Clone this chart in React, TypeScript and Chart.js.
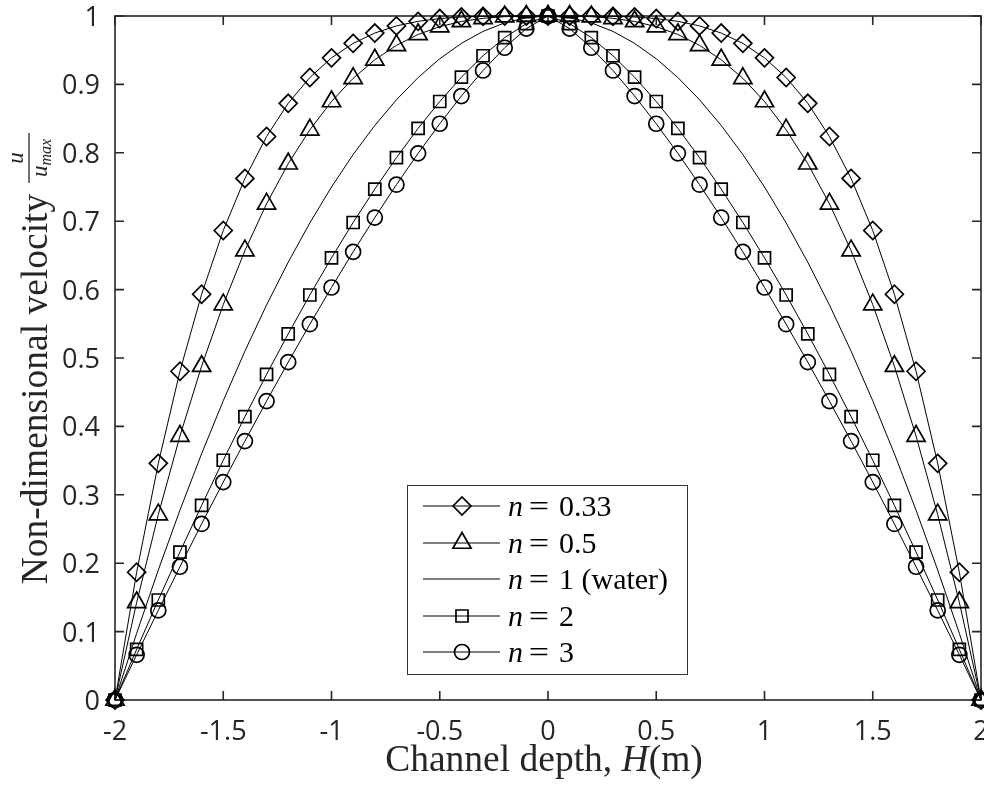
import React, { useEffect, useRef } from 'react';
import { Chart, registerables } from 'chart.js';

Chart.register(...registerables);

// Channel depth positions (m)
const xValues = [
  -2, -1.9, -1.8, -1.7, -1.6, -1.5, -1.4, -1.3, -1.2, -1.1, -1, -0.9, -0.8, -0.7, -0.6, -0.5, -0.4, -0.3, -0.2, -0.1,
  0, 0.1, 0.2, 0.3, 0.4, 0.5, 0.6, 0.7, 0.8, 0.9, 1, 1.1, 1.2, 1.3, 1.4, 1.5, 1.6, 1.7, 1.8, 1.9, 2,
];

// Non-dimensional velocity u/umax for each flow index n
const seriesN033 = [
  0, 0.1868, 0.346, 0.4806, 0.5932, 0.6864, 0.7625, 0.8238, 0.8724, 0.9101, 0.9388, 0.96, 0.9751, 0.9855, 0.9922, 0.9963, 0.9985, 0.9995, 1, 1,
  1, 1, 1, 0.9995, 0.9985, 0.9963, 0.9922, 0.9855, 0.9751, 0.96, 0.9388, 0.9101, 0.8724, 0.8238, 0.7625, 0.6864, 0.5932, 0.4806, 0.346, 0.1868, 0,
];
const seriesN05 = [
  0, 0.1426, 0.271, 0.3859, 0.488, 0.5781, 0.657, 0.7254, 0.784, 0.8336, 0.875, 0.9089, 0.936, 0.9571, 0.973, 0.9844, 0.992, 0.9966, 0.999, 0.9999,
  1, 0.9999, 0.999, 0.9966, 0.992, 0.9844, 0.973, 0.9571, 0.936, 0.9089, 0.875, 0.8336, 0.784, 0.7254, 0.657, 0.5781, 0.488, 0.3859, 0.271, 0.1426, 0,
];
const seriesN1 = [
  0, 0.0975, 0.19, 0.2775, 0.36, 0.4375, 0.51, 0.5775, 0.64, 0.6975, 0.75, 0.7975, 0.84, 0.8775, 0.91, 0.9375, 0.96, 0.9775, 0.99, 0.9975,
  1, 0.9975, 0.99, 0.9775, 0.96, 0.9375, 0.91, 0.8775, 0.84, 0.7975, 0.75, 0.6975, 0.64, 0.5775, 0.51, 0.4375, 0.36, 0.2775, 0.19, 0.0975, 0,
];
const seriesN2 = [
  0, 0.074, 0.1462, 0.2163, 0.2845, 0.3505, 0.4143, 0.476, 0.5352, 0.5921, 0.6464, 0.6981, 0.747, 0.7929, 0.8357, 0.875, 0.9106, 0.9419, 0.9684, 0.9888,
  1, 0.9888, 0.9684, 0.9419, 0.9106, 0.875, 0.8357, 0.7929, 0.747, 0.6981, 0.6464, 0.5921, 0.5352, 0.476, 0.4143, 0.3505, 0.2845, 0.2163, 0.1462, 0.074, 0,
];
const seriesN3 = [
  0, 0.0661, 0.131, 0.1948, 0.2574, 0.3186, 0.3785, 0.437, 0.4939, 0.5494, 0.6031, 0.6552, 0.7053, 0.7534, 0.7992, 0.8425, 0.883, 0.9203, 0.9536, 0.9816,
  1, 0.9816, 0.9536, 0.9203, 0.883, 0.8425, 0.7992, 0.7534, 0.7053, 0.6552, 0.6031, 0.5494, 0.4939, 0.437, 0.3785, 0.3186, 0.2574, 0.1948, 0.131, 0.0661, 0,
];

const seriesValues = ['0.33', '0.5', '1 (water)', '2', '3'];

const xTickValues = [-2, -1.5, -1, -0.5, 0, 0.5, 1, 1.5, 2];
const xTickLabels = ['-2', '-1.5', '-1', '-0.5', '0', '0.5', '1', '1.5', '2'];
const yTickValues = [0, 0.1, 0.2, 0.3, 0.4, 0.5, 0.6, 0.7, 0.8, 0.9, 1];
const yTickLabels = ['0', '0.1', '0.2', '0.3', '0.4', '0.5', '0.6', '0.7', '0.8', '0.9', '1'];

const AXIS = '#262626';
const SERIF = '"Liberation Serif", "DejaVu Serif", serif';
const SANS = '"Open Sans", "Noto Sans", sans-serif';

type Run = { t: string; it?: boolean; size?: number; dy?: number };

function runsWidth(ctx: CanvasRenderingContext2D, runs: Run[], size: number) {
  let w = 0;
  for (const r of runs) {
    ctx.font = `${r.it ? 'italic ' : ''}${r.size ?? size}px ${SERIF}`;
    w += ctx.measureText(r.t).width;
  }
  return w;
}

function drawRuns(ctx: CanvasRenderingContext2D, runs: Run[], x: number, y: number, size: number) {
  let cx = x;
  for (const r of runs) {
    ctx.font = `${r.it ? 'italic ' : ''}${r.size ?? size}px ${SERIF}`;
    ctx.fillText(r.t, cx, y + (r.dy ?? 0));
    cx += ctx.measureText(r.t).width;
  }
  return cx - x;
}

function drawMarker(ctx: CanvasRenderingContext2D, style: string, x: number, y: number, r: number) {
  ctx.beginPath();
  if (style === 'rectRot') {
    ctx.moveTo(x - r, y);
    ctx.lineTo(x, y - r);
    ctx.lineTo(x + r, y);
    ctx.lineTo(x, y + r);
    ctx.closePath();
  } else if (style === 'triangle') {
    ctx.moveTo(x, y - r);
    ctx.lineTo(x + r * Math.sin((2 * Math.PI) / 3), y - r * Math.cos((2 * Math.PI) / 3));
    ctx.lineTo(x - r * Math.sin((2 * Math.PI) / 3), y - r * Math.cos((2 * Math.PI) / 3));
    ctx.closePath();
  } else if (style === 'rect') {
    const s = r * Math.SQRT1_2;
    ctx.rect(x - s, y - s, 2 * s, 2 * s);
  } else if (style === 'circle') {
    ctx.arc(x, y, r, 0, Math.PI * 2);
  }
  ctx.stroke();
}

const styles = [
  { pointStyle: 'rectRot', radius: 9 },
  { pointStyle: 'triangle', radius: 10.5 },
  { pointStyle: false as any, radius: 0 },
  { pointStyle: 'rect', radius: 8.5 },
  { pointStyle: 'circle', radius: 7.5 },
];

const framePlugin = {
  id: 'framePlugin',
  beforeDraw(chart: any) {
    const { ctx, width, height } = chart;
    ctx.save();
    ctx.fillStyle = '#ffffff';
    ctx.fillRect(0, 0, width, height);
    ctx.restore();
  },
  beforeDatasetsDraw(chart: any) {
    const { ctx, chartArea } = chart;
    const { left, right, top, bottom } = chartArea;
    const xs = chart.scales.x;
    const ys = chart.scales.y;
    const tl = 9;
    ctx.save();
    ctx.strokeStyle = AXIS;
    ctx.lineWidth = 1.6;
    ctx.strokeRect(left, top, right - left, bottom - top);
    ctx.beginPath();
    for (const v of xTickValues) {
      const px = xs.getPixelForValue(v);
      ctx.moveTo(px, bottom);
      ctx.lineTo(px, bottom - tl);
      ctx.moveTo(px, top);
      ctx.lineTo(px, top + tl);
    }
    for (const v of yTickValues) {
      const py = ys.getPixelForValue(v);
      ctx.moveTo(left, py);
      ctx.lineTo(left + tl, py);
      ctx.moveTo(right, py);
      ctx.lineTo(right - tl, py);
    }
    ctx.stroke();

    // tick labels
    ctx.fillStyle = AXIS;
    ctx.font = `27px ${SANS}`;
    ctx.textBaseline = 'alphabetic';
    ctx.textAlign = 'center';
    xTickValues.forEach((v, i) => {
      ctx.fillText(xTickLabels[i], xs.getPixelForValue(v), bottom + 40);
    });
    ctx.textAlign = 'right';
    yTickValues.forEach((v, i) => {
      ctx.fillText(yTickLabels[i], left - 15, ys.getPixelForValue(v) + 10);
    });
    ctx.restore();
  },
  afterDraw(chart: any) {
    const { ctx } = chart;
    ctx.save();
    ctx.fillStyle = AXIS;
    ctx.textBaseline = 'alphabetic';
    ctx.textAlign = 'left';

    // x-axis title
    const xRuns: Run[] = [{ t: 'Channel depth, ' }, { t: 'H', it: true }, { t: '(m)' }];
    const xSize = 37.5;
    const xw = runsWidth(ctx, xRuns, xSize);
    drawRuns(ctx, xRuns, 544 - xw / 2, 771, xSize);

    // y-axis title (rotated)
    ctx.save();
    ctx.rotate(-Math.PI / 2);
    const yRuns: Run[] = [{ t: 'Non-dimensional velocity' }];
    const ySize = 37.5;
    const yw = runsWidth(ctx, yRuns, ySize);
    drawRuns(ctx, yRuns, -389 - yw / 2, 47, ySize);
    // fraction u / u_max
    const fc = -158;
    ctx.strokeStyle = AXIS;
    ctx.lineWidth = 1.3;
    ctx.beginPath();
    ctx.moveTo(fc - 25, 29);
    ctx.lineTo(fc + 25, 29);
    ctx.stroke();
    const num: Run[] = [{ t: 'u', it: true }];
    const nw = runsWidth(ctx, num, 23);
    drawRuns(ctx, num, fc - nw / 2, 23, 23);
    const den: Run[] = [{ t: 'u', it: true }, { t: 'max', it: true, size: 16, dy: 4 }];
    const dw = runsWidth(ctx, den, 23);
    drawRuns(ctx, den, fc - dw / 2, 47, 23);
    ctx.restore();

    // legend
    const bx = 407, by = 485, bw = 280, bh = 189;
    ctx.fillStyle = '#ffffff';
    ctx.fillRect(bx, by, bw, bh);
    ctx.strokeStyle = '#333333';
    ctx.lineWidth = 1;
    ctx.strokeRect(bx + 0.5, by + 0.5, bw, bh);
    const rows = [506, 543, 579, 616, 652];
    const lsize = 30;
    for (let i = 0; i < seriesValues.length; i++) {
      const ry = rows[i];
      ctx.strokeStyle = '#000000';
      ctx.lineWidth = 1;
      ctx.beginPath();
      ctx.moveTo(423, ry);
      ctx.lineTo(500, ry);
      ctx.stroke();
      if (styles[i].pointStyle) {
        ctx.lineWidth = 1.7;
        drawMarker(ctx, styles[i].pointStyle, 462, ry, styles[i].radius);
      }
      ctx.fillStyle = '#000000';
      drawRuns(ctx, [{ t: 'n', it: true }], 508, ry + 10, lsize);
      // wide math-style equals sign
      ctx.save();
      ctx.font = `${lsize}px ${SERIF}`;
      ctx.textAlign = 'center';
      ctx.translate(539, ry + 10);
      ctx.scale(1.2, 1);
      ctx.fillText('=', 0, 0);
      ctx.restore();
      drawRuns(ctx, [{ t: seriesValues[i] }], 559, ry + 10, lsize);
    }
    ctx.restore();
  },
};

export default function App() {
  const canvasRef = useRef<HTMLCanvasElement | null>(null);

  useEffect(() => {
    if (!canvasRef.current) return;
    const all = [seriesN033, seriesN05, seriesN1, seriesN2, seriesN3];
    const datasets = all.map((vals, i) => ({
      label: 'n = ' + seriesValues[i],
      data: xValues.map((x, j) => ({ x, y: vals[j] })),
      borderColor: '#000000',
      borderWidth: 1,
      pointStyle: styles[i].pointStyle,
      pointRadius: styles[i].radius,
      pointHoverRadius: styles[i].radius,
      pointBorderWidth: 1.7,
      pointBorderColor: '#000000',
      pointBackgroundColor: 'rgba(0,0,0,0)',
      tension: 0,
      clip: false as any,
      fill: false,
    }));

    const chart = new Chart(canvasRef.current, {
      type: 'line',
      data: { datasets },
      options: {
        responsive: false,
        animation: false,
        events: [],
        layout: { autoPadding: false, padding: { top: 16, right: 3, left: 0, bottom: 0 } },
        plugins: { legend: { display: false }, tooltip: { enabled: false } },
        scales: {
          x: {
            type: 'linear',
            min: -2,
            max: 2,
            afterBuildTicks: (s: any) => {
              s.ticks = xTickValues.map((v) => ({ value: v }));
            },
            ticks: { display: false },
            grid: { display: false, drawTicks: false },
            border: { display: false },
            afterFit: (s: any) => {
              s.height = 88;
            },
          },
          y: {
            type: 'linear',
            min: 0,
            max: 1,
            afterBuildTicks: (s: any) => {
              s.ticks = yTickValues.map((v) => ({ value: v }));
            },
            ticks: { display: false },
            grid: { display: false, drawTicks: false },
            border: { display: false },
            afterFit: (s: any) => {
              s.width = 115;
            },
          },
        },
      } as any,
      plugins: [framePlugin],
    });
    return () => chart.destroy();
  }, []);

  return (
    <div style={{ position: 'absolute', left: 0, top: 0, width: 984, height: 788 }}>
      <canvas ref={canvasRef} width={984} height={788} style={{ display: 'block' }} />
    </div>
  );
}
